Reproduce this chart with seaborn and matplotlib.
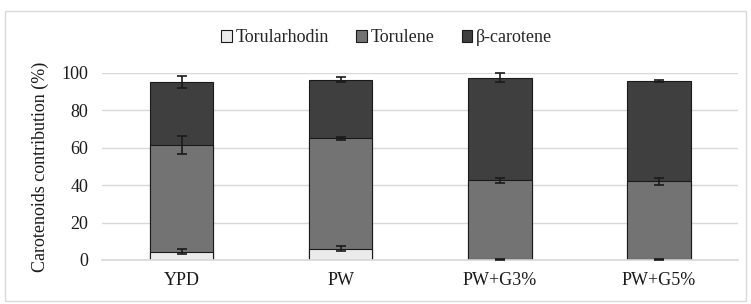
import matplotlib
matplotlib.use("Agg")
import matplotlib.pyplot as plt
import matplotlib.patches as mpatches
import numpy as np
import pandas as pd
import seaborn as sns

categories = ["YPD", "PW", "PW+G3%", "PW+G5%"]
torularhodin = [4.5, 6.0, 0.3, 0.3]
torulene = [57.0, 59.0, 42.2, 41.8]
beta_carotene = [33.5, 31.5, 55.0, 53.4]
torularhodin_err = [1.6, 1.3, 0.2, 0.2]
torulene_err = [5.0, 1.0, 1.2, 1.8]
beta_carotene_err = [3.3, 1.5, 2.4, 0.6]

series = ["Torularhodin", "Torulene", "β-carotene"]
colors = ["#EBEBEB", "#737373", "#3F3F3F"]

sns.set_theme(style="white")
plt.rcParams["font.family"] = ["Liberation Serif", "DejaVu Serif"]

df = pd.DataFrame({
    "category": categories,
    "Torularhodin": torularhodin,
    "Torulene": torulene,
    "β-carotene": beta_carotene,
})
cum = df[series].cumsum(axis=1)
errs = [torularhodin_err, torulene_err, beta_carotene_err]

fig = plt.figure(figsize=(7.51, 3.04), dpi=100)
ax = fig.add_axes([0.136, 0.145, 0.847, 0.615])

# stacked bars: draw cumulative totals from the top layer down
for name, color in reversed(list(zip(series, colors))):
    sns.barplot(x=df["category"], y=cum[name], color=color, saturation=1,
                width=0.4, edgecolor="#1a1a1a", linewidth=0.8, ax=ax, zorder=2)

xs = np.arange(len(categories))
for name, e in zip(series, errs):
    ax.errorbar(xs, cum[name], yerr=e, fmt="none", ecolor="#1a1a1a",
                elinewidth=1.2, capsize=3.5, capthick=1.2, zorder=4, clip_on=False)

ax.set_xlim(-0.5, 3.5)
ax.set_ylim(0, 100)
ax.set_yticks(range(0, 101, 20))
ax.yaxis.grid(True, color="#D9D9D9", linewidth=1)
ax.set_axisbelow(True)
for s in ["top", "right", "left"]:
    ax.spines[s].set_visible(False)
ax.spines["bottom"].set_color("#D9D9D9")
ax.tick_params(axis="both", length=0, labelsize=13, colors="#1a1a1a")
ax.tick_params(axis="y", pad=10)
ax.tick_params(axis="x", pad=9)
ax.set_xlabel("")
ax.set_ylabel("Carotenoids contribution (%)", fontsize=13, color="#1a1a1a", labelpad=9)

handles = [mpatches.Patch(facecolor=c, edgecolor="#1a1a1a", linewidth=0.8, label=n)
           for n, c in zip(series, colors)]
fig.legend(handles=handles, loc="center", bbox_to_anchor=(0.515, 0.875), ncol=3,
           frameon=False, fontsize=13, handlelength=0.6, handleheight=0.6,
           handletextpad=0.2, columnspacing=1.5)

fig.patches.append(mpatches.Rectangle((0.007, 0.01), 0.986, 0.955, transform=fig.transFigure,
                                      fill=False, edgecolor="#D9D9D9", linewidth=1))

fig.savefig("out.png", dpi=100)
